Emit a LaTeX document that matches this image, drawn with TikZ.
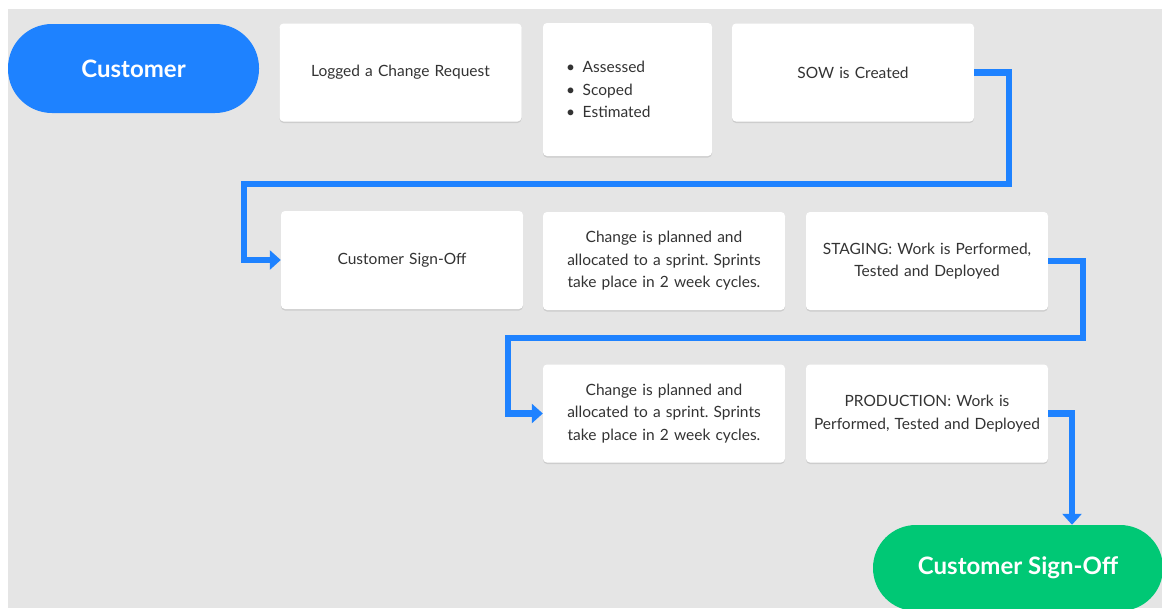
\documentclass[tikz,border=0pt]{standalone}
\usepackage{fontspec}
\setmainfont{Lato}
\frenchspacing
\usetikzlibrary{arrows.meta,shadows}
\definecolor{flowblue}{HTML}{1E82FF}
\definecolor{donegreen}{HTML}{00C875}
\definecolor{bggray}{HTML}{E5E5E5}
\definecolor{inkgray}{HTML}{333333}
\tikzset{
  card/.style={fill=white, rounded corners=4pt, minimum width=242pt, minimum height=98pt,
    text width=236pt, inner xsep=3pt, align=center, text=inkgray, font=\fontsize{15.5}{22.5}\selectfont,
    drop shadow={shadow xshift=0pt, shadow yshift=-1.5pt, opacity=0.10, fill=black}},
  pill/.style={rounded corners=44pt, minimum height=89pt, text=white,
    font=\fontsize{24}{28}\selectfont\bfseries},
  flow/.style={draw=flowblue, line width=6.5pt, -{Triangle[length=11pt,width=19pt]}}
}
\begin{document}
\begin{tikzpicture}[x=1pt,y=-1pt]
\useasboundingbox (0,0) rectangle (1162,608);
\clip (0,0) rectangle (1162,608);
\fill [white] (0,0) rectangle (1162,608);
\fill [bggray] (8,9) rectangle (1162,608);
% top row
\node [pill, fill=flowblue, minimum width=251pt] (customer) at (133.5,68.5) {Customer};
\node [card] (logged) at (400.5,72.5) {Logged a Change Request};
\node [card, minimum width=169pt, minimum height=133pt, text width=123pt, inner xsep=23pt, align=left]
  (assess) at (627.5,89.5) {• \,Assessed\\• \,Scoped\\• \,Estimated};
\node [card] (sow) at (853,72.5) {SOW is Created};
% middle row
\node [card] (signoff) at (402,260) {Customer Sign-Off};
\node [card] (plan) at (664,261) {Change is planned and\\allocated to a sprint. Sprints\\take place in 2 week cycles.};
\node [card] (staging) at (927,261) {STAGING: Work is Performed,\\Tested and Deployed};
% bottom row
\node [card] (replan) at (664,413.5) {Change is planned and\\allocated to a sprint. Sprints\\take place in 2 week cycles.};
\node [card] (production) at (927,413.5) {PRODUCTION: Work is\\Performed, Tested and Deployed};
\node [pill, fill=donegreen, minimum width=290pt, minimum height=86pt, rounded corners=43pt] (done) at (1018,568) {Customer Sign-Off};
% connectors
\coordinate (r1) at (1009,184);
\coordinate (l1) at (244,184);
\coordinate (r2) at (1083,338);
\coordinate (l2) at (508,338);
\draw [flow] (sow.east) -| (r1) -- (l1) |- (signoff.west);
\draw [flow] (staging.east) -| (r2) -- (l2) |- (replan.west);
\draw [flow] (production.east) -| (done.north -| 1072,0);
\end{tikzpicture}
\end{document}
